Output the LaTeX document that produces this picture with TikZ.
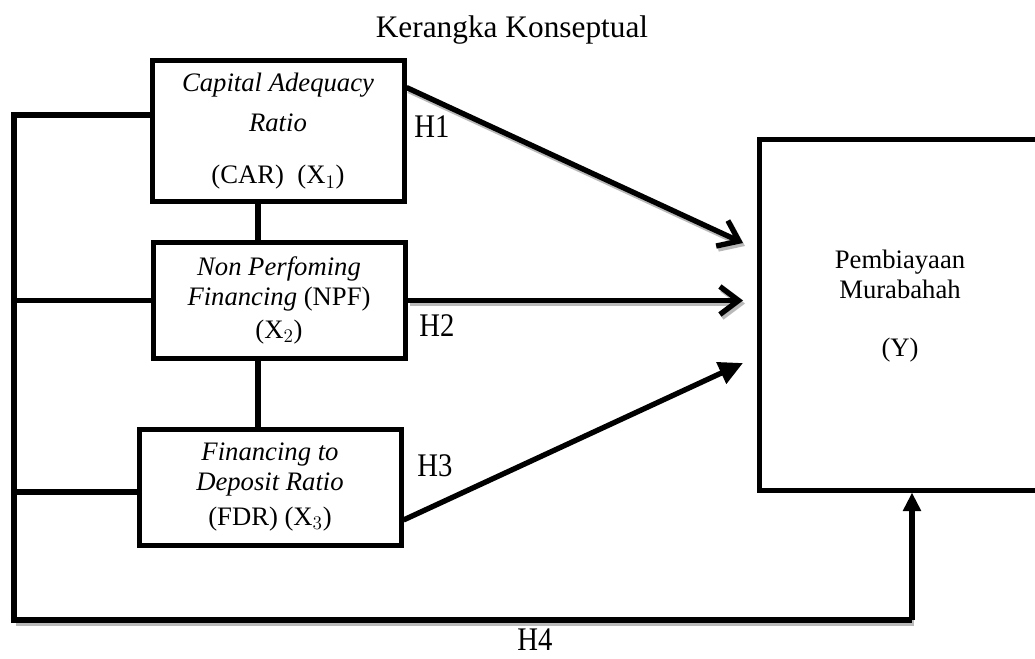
\documentclass[tikz,border=0pt]{standalone}
\usepackage{fontspec}
\setmainfont{Liberation Serif}
\usetikzlibrary{arrows.meta}
\newcommand{\hlab}[1]{\scalebox{1}[1.15]{#1}}

\begin{document}
\begin{tikzpicture}[x=0.75pt,y=-0.75pt,line width=4pt,
  box/.style={draw,line width=3.75pt,inner sep=0pt,align=center,font=\fontsize{20}{24}\selectfont},
  hyp/.style={font=\fontsize{21.5}{26}\selectfont},
  shad/.style={preaction={draw=gray!55,transform canvas={shift={(1.5pt,-2.25pt)}}}},
  barb/.style={-{Straight Barb[length=14pt,width=21pt]}},
  tri/.style={-{Triangle[length=18pt,width=17pt]}}]
\useasboundingbox (0,0) rectangle (1035,659);
% ---------- title ----------
\node[font=\fontsize{23.5}{28}\selectfont] (title) at (512,30) {Kerangka Konseptual};
% ---------- variable boxes ----------
\node[box,minimum width=189pt,minimum height=105.75pt] (car) at (278,131.5)
  {\textit{Capital Adequacy}\\[6pt]\textit{Ratio}\\[15pt](CAR)~~(X$_1$)};
\node[box,minimum width=189pt,minimum height=86.25pt] (npf) at (279,300.5)
  {\textit{Non Perfoming}\\[-2pt]\textit{Financing} (NPF)\\[1pt](X$_2$)};
\node[box,minimum width=196.5pt,minimum height=87pt] (fdr) at (270,487)
  {\textit{Financing to}\\[-1.5pt]\textit{Deposit Ratio}\\[2pt](FDR) (X$_3$)};
\node[box,minimum width=211.5pt,minimum height=262.5pt] (ybox) at (900,315) {};
\node[font=\fontsize{20}{24}\selectfont,align=center] (ylbl) at (900,306)
  {Pembiayaan\\[-1.5pt]Murabahah\\[20pt](Y)};
% ---------- links between the boxes ----------
\coordinate (vx) at (258,0);
\draw (car.south -| vx) -- (npf.north -| vx);
\draw (npf.south -| vx) -- (fdr.north -| vx);
% ---------- left bus and H4 ----------
\coordinate (lt) at (14,115);
\coordinate (lb) at (14,620);
\coordinate (rb) at (912,620);
\draw[gray!55,transform canvas={shift={(1.5pt,-2.25pt)}}] (lb) -- (rb);
\draw (lt -| car.west) -- (lt) -- (lb) -- (rb);
\draw (npf.west -| lt) -- (npf.west);
\draw (14,492) -- (fdr.west |- 0,492);
\draw[-{Triangle[length=14pt,width=13pt]}] (rb) -- (ybox.south -| rb);
% ---------- hypotheses H1 - H3 ----------
\coordinate (t1) at (743,243);
\coordinate (t2) at (743,300);
\coordinate (t3) at (743,363);
\draw[shad,barb] ([yshift=-21.75pt]car.north east) -- (t1);
\draw[shad,barb] (npf.east) -- (npf.east -| t2);
\draw[tri] ([yshift=-24.75pt]fdr.east) -- (t3);
\node[hyp] (h1) at (432,127) {\hlab{H1}};
\node[hyp] (h2) at (437,326) {\hlab{H2}};
\node[hyp] (h3) at (435,466) {\hlab{H3}};
\node[hyp] (h4) at (535,640) {\hlab{H4}};
\end{tikzpicture}
\end{document}
